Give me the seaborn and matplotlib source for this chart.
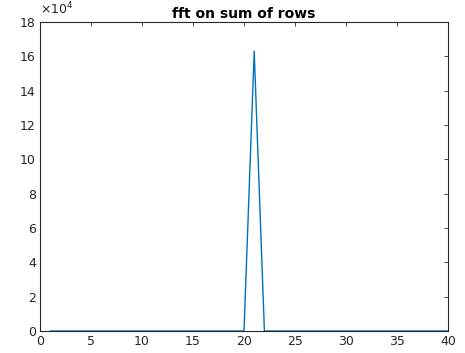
import numpy as np
import pandas as pd
import seaborn as sns
import matplotlib
matplotlib.use("Agg")
import matplotlib.pyplot as plt
from matplotlib.ticker import FuncFormatter

x_vals = list(range(1, 41))
y_vals = [0]*19 + [0, 163000, 0] + [0]*18  # x=1..40, peak at 21
y_ticks = list(range(0, 180001, 20000))
x_ticks = list(range(0, 41, 5))

df = pd.DataFrame({"x": x_vals, "y": y_vals})

sns.set_style("white")
plt.rcParams['font.family'] = ['DejaVu Sans']

fig = plt.figure(figsize=(4.65, 3.53), dpi=100)
ax = fig.add_axes([40/465, 22/353, 408/465, 309/353])
sns.lineplot(data=df, x="x", y="y", ax=ax, color="#0072BD", linewidth=1.0)

ax.set_xlim(0, 40)
ax.set_ylim(0, 180000)
ax.set_xticks(x_ticks)
ax.set_yticks(y_ticks)
ax.yaxis.set_major_formatter(FuncFormatter(lambda v, p: f"{v/1e4:g}"))
ax.text(0.0, 1.015, r"$\times10^{4}$", transform=ax.transAxes, fontsize=9,
        color="#262626", ha="left", va="bottom")
ax.set_xlabel("")
ax.set_ylabel("")
ax.set_title("fft on sum of rows", fontsize=10, fontweight="bold", pad=3, color="black")
ax.tick_params(direction="in", length=3, width=0.6, colors="#262626",
               labelsize=9, top=True, right=True, pad=3)
for s in ax.spines.values():
    s.set_color("#262626")
    s.set_linewidth(0.8)
    s.set_visible(True)

fig.savefig("out.png", dpi=100)
